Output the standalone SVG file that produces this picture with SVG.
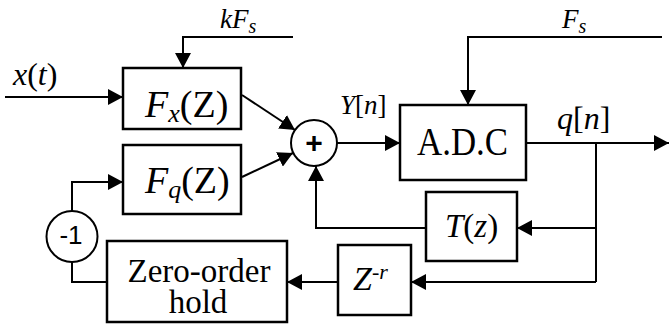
<svg xmlns="http://www.w3.org/2000/svg" width="669" height="327" viewBox="0 0 669 327">
<style>
.box{fill:#fff;stroke:#000;stroke-width:2.5}
.ln{fill:none;stroke:#000;stroke-width:2}
.t{font-family:"Liberation Serif","Times New Roman",serif;fill:#000}
.s{font-family:"Liberation Sans",Arial,sans-serif;fill:#000}
.i{font-style:italic}
</style>
<defs>
<marker id="ar" viewBox="0 0 15 16" refX="15" refY="8" markerWidth="15" markerHeight="16" markerUnits="userSpaceOnUse" orient="auto">
<path d="M0,0 L15,8 L0,16 z" fill="#000"/>
</marker>
</defs>
<g id="connectors" class="ln">
<path d="M5,97 H123" marker-end="url(#ar)"/>
<path d="M293,37 H183 V68" marker-end="url(#ar)"/>
<path d="M242,95 L295,130" marker-end="url(#ar)"/>
<path d="M242,177 L293,153" marker-end="url(#ar)"/>
<path d="M337,143 H400" marker-end="url(#ar)"/>
<path d="M662,37 H468 V105" marker-end="url(#ar)"/>
<path d="M526,143 H669" marker-end="url(#ar)"/>
<path d="M596,143 V282"/>
<path d="M596,228 H517" marker-end="url(#ar)"/>
<path d="M596,282 H411" marker-end="url(#ar)"/>
<path d="M426,228 H316 V166" marker-end="url(#ar)"/>
<path d="M338,282 H287" marker-end="url(#ar)"/>
<path d="M107,282 H72 V262"/>
<path d="M72,211 V182 H123" marker-end="url(#ar)"/>
</g>
<g id="fx">
<rect class="box" x="123" y="68" width="118" height="61"/>
<text class="t" x="145" y="117" font-size="38"><tspan class="i">F</tspan><tspan class="i" font-size="26" dy="5">x</tspan><tspan dy="-5">(Z)</tspan></text>
</g>
<g id="fq">
<rect class="box" x="123" y="145" width="118" height="69"/>
<text class="t" x="145" y="193" font-size="38"><tspan class="i">F</tspan><tspan class="i" font-size="26" dy="5">q</tspan><tspan dy="-5">(Z)</tspan></text>
</g>
<g id="sum">
<circle cx="314" cy="143" r="23" fill="#fff" stroke="#000" stroke-width="2"/>
<text class="s" x="314" y="153" font-size="30" font-weight="bold" text-anchor="middle">+</text>
</g>
<g id="adc">
<rect class="box" x="400" y="105" width="126" height="75"/>
<text class="t" x="417" y="155" font-size="40" textLength="91" lengthAdjust="spacingAndGlyphs">A.D.C</text>
</g>
<g id="tz">
<rect class="box" x="426" y="192" width="91" height="69"/>
<text class="t" x="445" y="237" font-size="33"><tspan class="i">T</tspan>(<tspan class="i">z</tspan>)</text>
</g>
<g id="zr">
<rect class="box" x="338" y="245" width="73" height="70"/>
<text class="t" x="353" y="290" font-size="34"><tspan class="i">Z</tspan><tspan font-size="22" dy="-11">-</tspan><tspan class="i" font-size="22">r</tspan></text>
</g>
<g id="zoh">
<rect class="box" x="107" y="241" width="180" height="81"/>
<text class="t" x="199" y="282" font-size="33" text-anchor="middle">Zero-order</text>
<text class="t" x="198" y="313" font-size="33" text-anchor="middle">hold</text>
</g>
<g id="neg">
<circle cx="72" cy="236.5" r="25.5" fill="#fff" stroke="#000" stroke-width="2"/>
<text class="s" x="71" y="244" font-size="26" text-anchor="middle">-1</text>
</g>
<g id="labels">
<text class="t" x="13" y="85" font-size="32"><tspan class="i">x</tspan>(<tspan class="i">t</tspan>)</text>
<text class="t i" x="220" y="28" font-size="27">kF<tspan font-size="20" dy="5">s</tspan></text>
<text class="t i" x="562" y="28" font-size="27">F<tspan font-size="20" dy="5">s</tspan></text>
<text class="t" x="340" y="114" font-size="27"><tspan class="i">Y</tspan>[<tspan class="i">n</tspan>]</text>
<text class="t" x="557" y="129" font-size="32"><tspan class="i">q</tspan>[<tspan class="i">n</tspan>]</text>
</g>
</svg>
